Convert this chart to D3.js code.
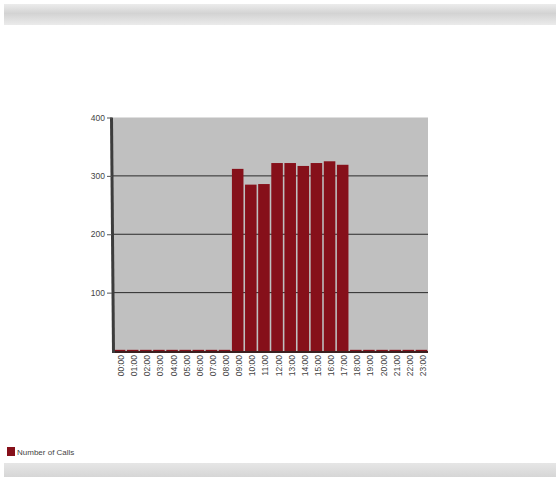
<!DOCTYPE html>
<html><head><meta charset="utf-8">
<script src="https://cdn.jsdelivr.net/npm/d3@7"></script>
<style>body{margin:0;background:#fff;}svg{display:block;}</style>
</head><body>
<script>
const hours = ["00:00","01:00","02:00","03:00","04:00","05:00","06:00","07:00","08:00","09:00","10:00","11:00","12:00","13:00","14:00","15:00","16:00","17:00","18:00","19:00","20:00","21:00","22:00","23:00"];
const calls = [2,2,2,2,2,2,2,2,2,312,285,286,322,322,317,322,325,319,2,2,2,2,2,2];
const yTicks = [100,200,300,400];
const seriesName = "Number of Calls";

(function(){
const W = 556, H = 477;
const svg = d3.select("body").append("svg").attr("width", W).attr("height", H);
const defs = svg.append("defs");
const g1 = defs.append("linearGradient").attr("id","band").attr("x1",0).attr("y1",0).attr("x2",0).attr("y2",1);
g1.append("stop").attr("offset","0").attr("stop-color","#ececec");
g1.append("stop").attr("offset","0.45").attr("stop-color","#d3d3d3");
g1.append("stop").attr("offset","1").attr("stop-color","#ebebeb");
const g2 = defs.append("linearGradient").attr("id","band2").attr("x1",0).attr("y1",0).attr("x2",0).attr("y2",1);
g2.append("stop").attr("offset","0").attr("stop-color","#e6e6e6");
g2.append("stop").attr("offset","1").attr("stop-color","#d6d6d6");

svg.append("rect").attr("x",4).attr("y",4).attr("width",W-4).attr("height",21).attr("fill","url(#band)");
svg.append("rect").attr("x",4).attr("y",463).attr("width",W-4).attr("height",14).attr("fill","url(#band2)");

const pl = 113, pr = 428, pt = 117.5, pb = 351;
const x = d3.scaleBand().domain(hours).range([pl, pr]).paddingInner(0.12).paddingOuter(0.06);
const y = d3.scaleLinear().domain([0,400]).range([pb, pt]);

svg.append("rect").attr("x",pl).attr("y",pt).attr("width",pr-pl).attr("height",pb-pt).attr("fill","#c0c0c0");

// gridlines
svg.selectAll("line.grid").data(yTicks.filter(t=>t<400)).join("line").attr("class","grid")
  .attr("x1",pl).attr("x2",pr).attr("y1",d=>y(d)).attr("y2",d=>y(d))
  .attr("stroke","#2a2a2a").attr("stroke-width",1);

// bars
svg.selectAll("rect.bar").data(calls).join("rect").attr("class","bar")
  .attr("x",(d,i)=>x(hours[i])).attr("width",x.bandwidth())
  .attr("y",d=>y(d)).attr("height",d=>pb-y(d)+1)
  .attr("fill","#86101a");

// floor
svg.append("line").attr("x1",pl).attr("x2",pr).attr("y1",pb+1).attr("y2",pb+1)
  .attr("stroke","#3a2020").attr("stroke-width",2);
// left wall
svg.append("path").attr("d",`M${pl-3},${pt} L${pl},${pt} L${pl+2},${pb+2} L${pl-1},${pb+2} Z`)
  .attr("fill","#3c3c3c");

// y axis labels
const yAxis = d3.axisLeft(y).tickValues(yTicks).tickSize(5).tickPadding(2);
const ya = svg.append("g").attr("transform",`translate(${pl-1},0)`).call(yAxis);
ya.select(".domain").remove();
ya.selectAll("line").attr("stroke","#555");
ya.selectAll("text").attr("font-family","Liberation Sans, Arial, sans-serif").attr("font-size","8.5px").attr("fill","#444");

// x axis labels
const xAxis = d3.axisBottom(x).tickSize(0).tickPadding(0);
const xa = svg.append("g").attr("transform",`translate(0,${pb+4})`).call(xAxis);
xa.select(".domain").remove();
xa.selectAll("text").attr("font-family","Liberation Sans, Arial, sans-serif").attr("font-size","8.5px").attr("fill","#444")
  .attr("text-anchor","end").attr("transform","rotate(-90)").attr("x",0).attr("y",0).attr("dx",0).attr("dy","0.35em");
xa.selectAll(".tick").attr("transform",d=>`translate(${x(d)+x.bandwidth()/2+1.5},0)`);

// legend
svg.append("rect").attr("x",7).attr("y",447).attr("width",8).attr("height",9).attr("fill","#86101a");
svg.append("text").attr("x",17).attr("y",455).text(seriesName)
  .attr("font-family","Liberation Sans, Arial, sans-serif").attr("font-size","8px").attr("fill","#444");
})();
</script>
</body></html>
